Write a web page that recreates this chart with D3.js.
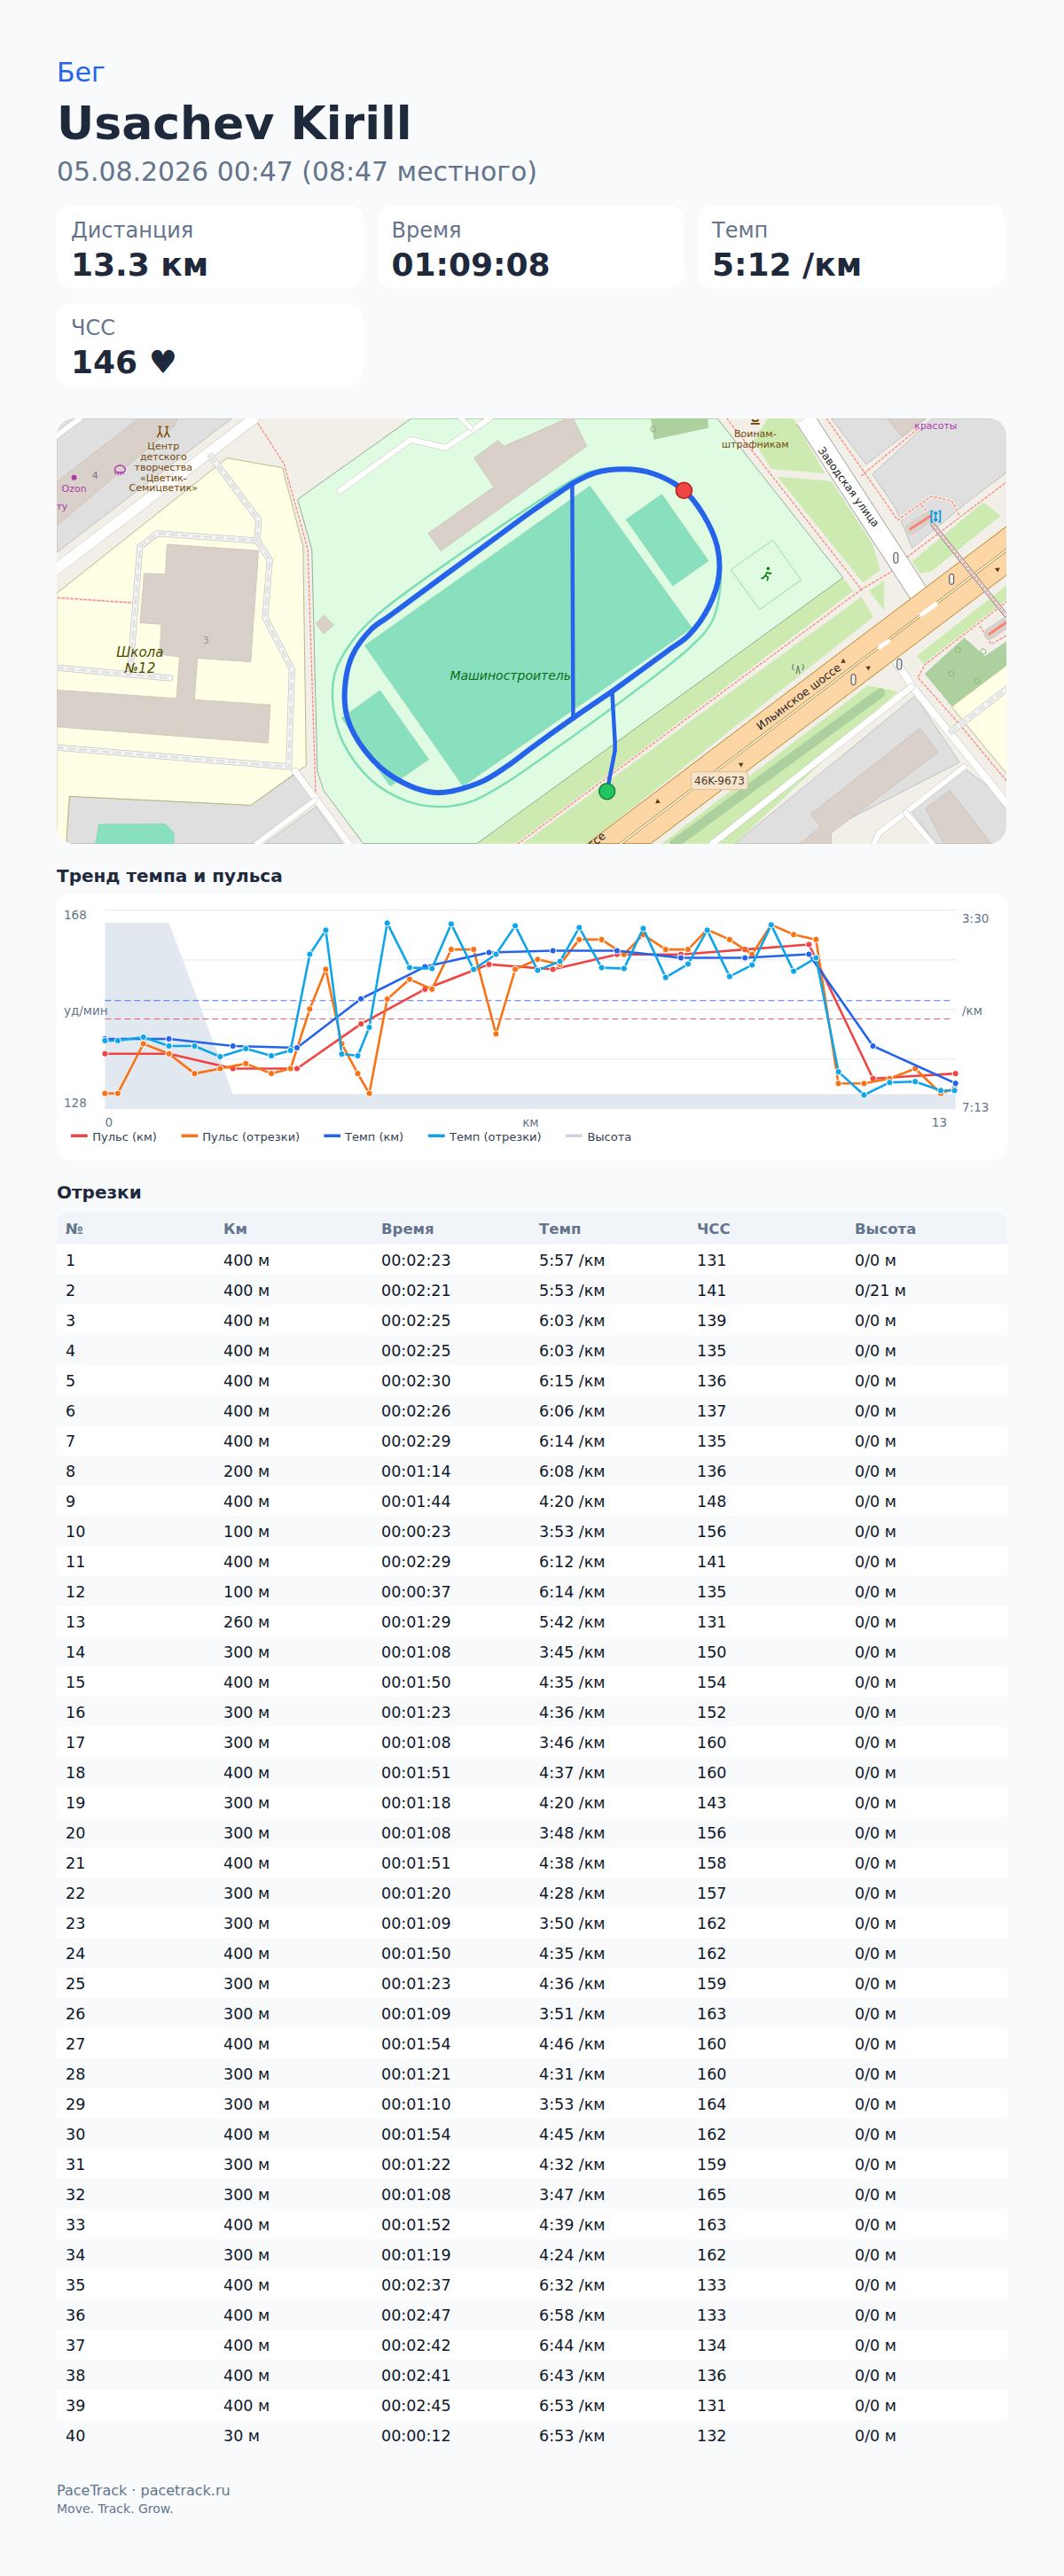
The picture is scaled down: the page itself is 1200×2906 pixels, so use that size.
<!DOCTYPE html>
<html>
<head>
<meta charset="utf-8">
<script src="https://cdn.jsdelivr.net/npm/d3@7/dist/d3.min.js"></script>
<style>
html, body { margin: 0; padding: 0; background: #f8fafc; }
svg { display: block; font-family: "DejaVu Sans", sans-serif; }
</style>
</head>
<body>
<div class="content"></div>
<script>
// header + stat cards
const activity = "Бег";
const athlete = "Usachev Kirill";
const dateLine = "05.08.2026 00:47 (08:47 местного)";
const statLabels = ["Дистанция", "Время", "Темп", "ЧСС"];
const statValues = ["13.3 км", "01:09:08", "5:12 /км", "146 ♥"];

// splits table
const tableHead = ["№", "Км", "Время", "Темп", "ЧСС", "Высота"];
const segDist = [400,400,400,400,400,400,400,200,400,100,400,100,260,300,400,300,300,400,300,300,400,300,300,400,300,300,400,300,300,400,300,300,400,300,400,400,400,400,400,30];
const segTime = ["00:02:23","00:02:21","00:02:25","00:02:25","00:02:30","00:02:26","00:02:29","00:01:14","00:01:44","00:00:23","00:02:29","00:00:37","00:01:29","00:01:08","00:01:50","00:01:23","00:01:08","00:01:51","00:01:18","00:01:08","00:01:51","00:01:20","00:01:09","00:01:50","00:01:23","00:01:09","00:01:54","00:01:21","00:01:10","00:01:54","00:01:22","00:01:08","00:01:52","00:01:19","00:02:37","00:02:47","00:02:42","00:02:41","00:02:45","00:00:12"];
const segPace = ["5:57","5:53","6:03","6:03","6:15","6:06","6:14","6:08","4:20","3:53","6:12","6:14","5:42","3:45","4:35","4:36","3:46","4:37","4:20","3:48","4:38","4:28","3:50","4:35","4:36","3:51","4:46","4:31","3:53","4:45","4:32","3:47","4:39","4:24","6:32","6:58","6:44","6:43","6:53","6:53"];
const segHr = [131,141,139,135,136,137,135,136,148,156,141,135,131,150,154,152,160,160,143,156,158,157,162,162,159,163,160,160,164,162,159,165,163,162,133,133,134,136,131,132];
const segElev = ["0/0","0/21","0/0","0/0","0/0","0/0","0/0","0/0","0/0","0/0","0/0","0/0","0/0","0/0","0/0","0/0","0/0","0/0","0/0","0/0","0/0","0/0","0/0","0/0","0/0","0/0","0/0","0/0","0/0","0/0","0/0","0/0","0/0","0/0","0/0","0/0","0/0","0/0","0/0","0/0"];

// chart series. segments sit at the middle of each split, km series at the km mark
const segKm = [0,0.2,0.6,1,1.4,1.8,2.2,2.6,2.9,3.2,3.45,3.7,3.95,4.13,4.41,4.76,5.11,5.41,5.76,6.11,6.41,6.76,7.11,7.41,7.76,8.11,8.41,8.76,9.11,9.41,9.76,10.11,10.41,10.76,11.11,11.46,11.86,12.26,12.66,13.06,13.275];
const kmMarks = [0,1,2,3,4,5,6,7,8,9,10,11,12,13.29];
const kmHr = [139,139,136,136,145,152,157,156,159,159,160,161,134,135];
const kmPace = ["5:55","5:55","6:03","6:05","5:10","4:34","4:18","4:16","4:16","4:24","4:24","4:20","6:03","6:45"];
const kmElev = [21,21,0,0,0,0,0,0,0,0,0,0,0,0];
const hrTicks = [128,138,148,158,168];
const avgHr = 146;
const avgPace = "5:12";
const legendNames = ["Пульс (км)", "Пульс (отрезки)", "Темп (км)", "Темп (отрезки)", "Высота"];
const legendColors = ["#ef4444", "#f97316", "#2563eb", "#0ea5e9", "#cbd5e1"];

// map features, west half read in crop units, east half shifted by one crop (E)
const E = pts => pts.map(p => [p[0] + 1568, p[1]]);
const mapGrey = [
  [[67,36],[620,36],[67,490]],
  [[107,1315],[680,1345],[820,1240],[875,1325],[690,1475],[97,1475]],
  [[885,1350],[725,1475],[970,1475]],
  E([[945,36],[1055,192],[1245,36]]),
  E([[1075,225],[1145,335],[1180,420],[1200,475],[1380,315],[1500,218],[1500,36],[1265,36]]),
  E([[1210,975],[1350,1200],[850,1475],[640,1475]]),
  E([[1365,1220],[1500,1330],[1500,1475],[1275,1475],[1195,1360]])
];
const mapBuildings = [
  [[67,250],[327,36],[447,36],[440,60],[67,400]],
  [[415,462],[705,483],[680,860],[512,848],[502,988],[742,1005],[735,1135],[67,1080],[67,955],[445,983],[455,843],[392,835],[397,733],[330,728],[343,560],[410,563]],
  [[912,702],[942,735],[910,765],[885,730]],
  [[1240,425],[1447,268],[1385,170],[1460,110],[1480,130],[1678,36],[1698,36],[1741,130],[1280,485]],
  E([[1120,36],[1170,100],[1245,36]]),
  E([[1225,1085],[1283,1165],[945,1440],[945,1475],[845,1475],[912,1418],[880,1375]]),
  E([[1320,1295],[1450,1475],[1300,1475],[1243,1355]])
];
const schoolYard = [[67,628],[605,170],[780,203],[845,470],[855,1210],[680,1345],[107,1315],[97,1475],[67,1475]];
const eastYard = E([[1325,1012],[1500,870],[1500,1240]]);
const parkArea = [[828,310],[1187,36],[2153,36],[2550,575],[1394,1475],[1035,1475],[910,1295],[890,1230],[873,480]];
const sportsBox = E([[760,448],[850,583],[718,683],[628,548]]);
const pitches = [
  [[1751,265],[2073,745],[1350,1280],[1040,805]],
  [[1088,957],[1242,1190],[1120,1280],[967,1050]],
  E([[410,293],[557,518],[445,603],[297,378]]),
  [[190,1475],[200,1410],[410,1408],[438,1440],[436,1475]]
];
const grassAreas = [
  E([[-174,1475],[982,575],[1015,620],[-44,1475]]),
  E([[1040,640],[1078,708],[175,1475],[-30,1475]]),
  E([[1065,620],[1112,585],[1112,688]]),
  E([[745,36],[825,36],[925,222],[755,207],[700,110]]),
  E([[775,233],[945,248],[1075,460],[1100,550],[1045,592]]),
  E([[1200,520],[1425,320],[1480,365],[1260,555],[1225,560]]),
  E([[1215,840],[1500,600],[1500,660],[1240,870]]),
  E([[1060,940],[1155,960],[640,1475],[410,1475]])
];
const treeAreas = [
  E([[375,36],[555,36],[557,68],[385,108]]),
  E([[1240,900],[1365,778],[1430,840],[1500,790],[1500,870],[1325,1010]])
];
const busStops = [E([[1195,410],[1260,365]]), E([[1445,765],[1500,725]])];
const treeBelt = E([[1100,965],[450,1475]]);
const highway = E([[1500,400],[175,1475],[375,1475],[1500,565]]);
const highwayMid = E([[1500,480],[280,1475]]);
const highwayGaps = [E([[1230,700],[1275,665]]), E([[1098,810],[1125,790]])];
const whiteRoads = [
  {pts: [[67,545],[690,36]], w: 12},
  {pts: [[67,95],[140,36]], w: 6},
  {pts: [[820,1230],[990,1475]], w: 7},
  {pts: [[880,1330],[700,1475]], w: 6},
  {pts: [[960,282],[1185,108],[1295,135],[1435,36]], w: 6},
  {pts: [[1345,36],[1375,70]], w: 5},
  {pts: E([[1150,860],[1205,950],[1500,1340]]), w: 8},
  {pts: E([[1198,945],[570,1475]]), w: 7},
  {pts: E([[1365,1215],[1180,1370],[1095,1440],[1080,1475]]), w: 6},
  {pts: E([[1180,1370],[1265,1475]]), w: 6}
];
const zavodskaya = E([[862,36],[1222,630]]);
const serviceRoads = [
  [[555,165],[705,380],[700,450],[740,515],[725,710],[810,885],[800,1215]],
  [[700,450],[385,425],[330,470],[300,880]],
  [[67,880],[425,915]],
  [[67,1150],[800,1215]],
  E([[1325,1095],[1500,950]])
];
const footways = [
  [[695,40],[785,190],[860,480],[885,1310]],
  [[70,643],[305,660]],
  E([[615,36],[1040,615],[1150,545]]),
  E([[1040,615],[-50,1480]]),
  E([[930,36],[1155,380],[1260,300],[1325,315],[1350,365]]),
  E([[1230,330],[1265,375]]),
  E([[1040,230],[1220,70]]),
  E([[1185,505],[1500,250]]),
  E([[1415,740],[1450,800],[1500,770]]),
  E([[1220,910],[1240,870],[1500,655]]),
  E([[1220,915],[1345,1065],[1500,1265]])
];
const footBridge = E([[1265,395],[1495,700]]);
const trafficLights = E([[1149,508],[1325,580],[1160,868],[1015,920]]);
const oneWay = E([[983,858],[1062,880],[1470,547],[660,1207],[397,1333]]);
const oneWayDir = [-125,55,55,55,-125];
const trees = E([[383,72],[1325,900],[1405,925],[1345,820],[1425,825]]);
const trackLine = [[1080,700],[1000,790],[945,900],[940,1010],[970,1130],[1060,1260],[1170,1330],[1265,1350],[1370,1335],[1470,1280],[1568,1210],[2068,810],[2138,720],[2163,600],[2158,500],[2118,380],[2028,260],[1938,215],[1848,205],[1758,215],[1688,250]];
const routeStart = [1805,1298];
const routeEnd = [2048,280];
const routeStem = [routeStart,[1830,1160],[1830,1130],[1821,960]];
const routeArc = [[1821,960],[2000,820],[2063,770],[2128,670],[2158,570],[2153,470],[2108,360],[2048,280],[1948,222],[1858,208],[1768,220],[1698,255]];
const routeCross = [[1695,255],[1698,1050]];
const routeLoop = [[1821,960],[1698,1050],[1568,1150],[1500,1205],[1400,1270],[1260,1302],[1130,1250],[1040,1160],[985,1050],[977,950],[1000,840],[1060,750],[1120,703],[1500,403],[1568,350],[1698,255]];
const mapLabels = [
  {t: "Центр", p: [404,128], c: "#734a08", s: 11},
  {t: "детского", p: [404,164], c: "#734a08", s: 11},
  {t: "творчества", p: [404,200], c: "#734a08", s: 11},
  {t: "«Цветик-", p: [404,236], c: "#734a08", s: 11},
  {t: "Семицветик»", p: [404,271], c: "#734a08", s: 11},
  {t: "4", p: [188,227], c: "#777", s: 11},
  {t: "Ozon", p: [122,274], c: "#ac39ac", s: 11},
  {t: "Berry", p: [60,332], c: "#ac39ac", s: 11},
  {t: "3", p: [538,787], c: "#999", s: 11},
  {t: "Школа", p: [330,828], c: "#4c4c00", s: 15, it: 1},
  {t: "№12", p: [330,882], c: "#4c4c00", s: 15, it: 1},
  {t: "Машиностроитель", p: [1500,905], c: "#0e6b17", s: 14, it: 1},
  {t: "Воинам-", p: [2273,86], c: "#734a08", s: 11},
  {t: "штрафникам", p: [2273,122], c: "#734a08", s: 11},
  {t: "красоты", p: [2843,60], c: "#ac39ac", s: 11},
  {t: "Заводская улица", p: [2568,268], c: "#222", s: 12, r: 54},
  {t: "Ильинское шоссе", p: [2410,978], c: "#222", s: 12.5, r: -37},
  {t: "шоссе", p: [1750,1480], c: "#222", s: 12.5, r: -37}
];
const shield = {t: "46K-9673", p: [2160,1262]};
// small point icons: place + shape in px around the place
const mapIcons = [
  {p: [404,82], c: "#734a08", w: 1.4, d: "M-6,-6h4M-4,-6v6l-3,6M-4,0l3,6M2,-6h4M4,-6v6l-3,6M4,0l3,6"},
  {p: [267,210], c: "#ac39ac", w: 1.5, d: "M-6,0a6,5 0 0 1 12,0a6,3 0 0 1 -12,0M-5,2v3M-2,3v3M1,3v3M4,2v3"},
  {p: [2273,45], c: "#734a08", w: 2, d: "M-5,3h10M-3,0h6M-3,-2v2M3,-2v2"},
  {p: [2308,565], c: "#0a7a0a", w: 1.6, d: "M2,-6a1,1 0 1 1 0.1,0M1,-3l-2,4l3,2l-1,4M-1,1l-3,3h-2M1,-3l3,2l2,-1"},
  {p: [2408,882], c: "#777", w: 1.2, d: "M-2,6l2,-9l2,9M-5,-5a6,6 0 0 0 0,7M5,-5a6,6 0 0 1 0,7"},
  {p: [2843,368], c: "#0a9ae0", w: 1.8, d: "M-3,-6h-2v12h2M3,-6h2v12h-2M0,-5v10M-2,-3l2,-2l2,2M-2,3l2,2l2,-2"}
];

// helpers
const parsePace = s => { const a = s.split(":"); return +a[0] * 60 + +a[1]; };
const withStart = a => [a[0]].concat(a);

const svg = d3.select(".content").append("svg")
  .attr("width", 1200).attr("height", 2906)
  .style("background", "#f8fafc");

function txt(g, t, x, y, size, color, weight) {
  return g.append("text").attr("x", x).attr("y", y)
    .attr("font-size", size).attr("fill", color)
    .attr("font-weight", weight || "normal").text(t);
}

// ---- header
txt(svg, activity, 64, 92, 30, "#2563eb");
txt(svg, athlete, 64, 157, 52, "#1e293b", "bold");
txt(svg, dateLine, 64, 204, 29.9, "#64748b");

const cardW = 346, cardH = 93, cardStep = 361.5;
statLabels.forEach((lab, i) => {
  const cx = 64 + (i % 3) * cardStep;
  const cy = 232 + Math.floor(i / 3) * 110;
  svg.append("rect").attr("x", cx).attr("y", cy).attr("width", cardW).attr("height", cardH)
    .attr("rx", 16).attr("fill", "#fff");
  txt(svg, lab, cx + 16, cy + 36, 24, "#64748b");
  txt(svg, statValues[i], cx + 16, cy + 79, 36, "#1e293b", "bold");
});

// ---- map
const mapX = d3.scaleLinear().domain([0, 3136]).range([40, 1160]);
const mapY = d3.scaleLinear().domain([0, 1530]).range([460, 970]);
const mapLine = d3.line().x(d => mapX(d[0])).y(d => mapY(d[1]));
const poly = pts => mapLine(pts) + "Z";

svg.append("clipPath").attr("id", "mapClip").append("rect")
  .attr("x", 64).attr("y", 472).attr("width", 1071).attr("height", 480).attr("rx", 20);
const map = svg.append("g").attr("clip-path", "url(#mapClip)");
map.append("rect").attr("x", 64).attr("y", 472).attr("width", 1071).attr("height", 480).attr("fill", "#f2efe9");

function fillAll(list, color, edge, ew) {
  map.append("g").selectAll("path").data(list).enter().append("path")
    .attr("d", poly).attr("fill", color)
    .attr("stroke", edge || "none").attr("stroke-width", ew || 0.8);
}
function strokeAll(list, color, w, dash, cap) {
  map.append("g").selectAll("path").data(list).enter().append("path")
    .attr("d", mapLine).attr("fill", "none").attr("stroke", color)
    .attr("stroke-width", w).attr("stroke-dasharray", dash || null)
    .attr("stroke-linecap", cap || "round").attr("stroke-linejoin", "round");
}

fillAll(mapGrey, "#dfdfdf", "#a8a8a8", 0.6);
fillAll(grassAreas, "#cdebb0");
strokeAll([treeBelt], "#add19e", 11);
fillAll([schoolYard, eastYard], "#ffffe5", "#a9a96c", 0.8);
fillAll([parkArea], "#dffce2", "#6f8f6f", 0.7);
fillAll(treeAreas, "#add19e");
fillAll([sportsBox], "#dffce2", "#88d098", 0.8);
fillAll(pitches, "#88e0be", "#7fd0b0", 0.6);
fillAll(mapBuildings, "#d9d0c9", "#bfb3a8", 0.5);

// track around the pitches
map.append("path")
  .attr("d", d3.line().x(d => mapX(d[0])).y(d => mapY(d[1])).curve(d3.curveCatmullRomClosed)(trackLine))
  .attr("fill", "none").attr("stroke", "#7fdcb8").attr("stroke-width", 2.5);

// footways, beige under red dots
strokeAll(footways, "#f2efe9", 3.5);
strokeAll(footways, "#fa8072", 1.2, "2.5 2.5");

// roads
whiteRoads.forEach(r => {
  strokeAll([r.pts], "#c9c5be", r.w + 1);
  strokeAll([r.pts], "#fff", r.w);
});
strokeAll(serviceRoads, "#c4c4c4", 7);
strokeAll(serviceRoads, "#f6f6f6", 5.5);
strokeAll(serviceRoads, "#e2e2e2", 3, "7 6");

// Zavodskaya street runs under the highway
strokeAll([zavodskaya], "#999", 23, null, "butt");
strokeAll([zavodskaya], "#fff", 21.5, null, "butt");

// Ilyinskoe highway
fillAll([highway], "#fcd6a4", "#b8862d", 1);
strokeAll([highwayMid], "#b8862d", 3);
strokeAll([highwayMid], "#fff", 1.5);
strokeAll(highwayGaps, "#fff", 5);

// bus stops and the foot bridge
strokeAll(busStops, "#d9d0c9", 13);
strokeAll(busStops, "#fa8072", 3, "2 2");
strokeAll([footBridge], "#8a8a8a", 5);
strokeAll([footBridge], "#fff", 3);
strokeAll([footBridge], "#fa8072", 1.2, "3 2");

// little map icons
map.append("g").selectAll("rect").data(trafficLights).enter().append("rect")
  .attr("x", d => mapX(d[0]) - 2.5).attr("y", d => mapY(d[1]) - 6)
  .attr("width", 5).attr("height", 12).attr("rx", 2.5)
  .attr("fill", "#eee").attr("stroke", "#444").attr("stroke-width", 1);
map.append("g").selectAll("path").data(oneWay).enter().append("path")
  .attr("d", d3.symbol().type(d3.symbolTriangle).size(14))
  .attr("transform", (d, i) => `translate(${mapX(d[0])},${mapY(d[1])}) rotate(${oneWayDir[i]})`)
  .attr("fill", "#5a3d12");
map.append("g").selectAll("circle").data(trees).enter().append("circle")
  .attr("cx", d => mapX(d[0])).attr("cy", d => mapY(d[1])).attr("r", 3)
  .attr("fill", "none").attr("stroke", "#8cb97a").attr("stroke-width", 1);
map.append("g").selectAll("path").data(mapIcons).enter().append("path")
  .attr("transform", d => `translate(${mapX(d.p[0])},${mapY(d.p[1])})`)
  .attr("d", d => d.d).attr("fill", "none").attr("stroke", d => d.c).attr("stroke-width", d => d.w);

const schoolDot = [122,236];
map.append("circle").attr("cx", mapX(schoolDot[0])).attr("cy", mapY(schoolDot[1])).attr("r", 3).attr("fill", "#ac39ac");

// map text
map.append("g").selectAll("text").data(mapLabels).enter().append("text")
  .attr("text-anchor", "middle").attr("dy", "0.35em")
  .attr("font-size", d => d.s).attr("fill", d => d.c)
  .attr("font-style", d => d.it ? "italic" : "normal")
  .attr("transform", d => `translate(${mapX(d.p[0])},${mapY(d.p[1])}) rotate(${d.r || 0})`)
  .text(d => d.t);

const sh = map.append("g").attr("transform", `translate(${mapX(shield.p[0])},${mapY(shield.p[1])})`);
sh.append("rect").attr("x", -32).attr("y", -10).attr("width", 64).attr("height", 20).attr("rx", 3)
  .attr("fill", "#f5e3cc").attr("stroke", "#dcbf9a");
sh.append("text").attr("text-anchor", "middle").attr("dy", "0.35em").attr("font-size", 12)
  .attr("fill", "#4a3a28").text(shield.t);

// route
const routeCurve = d3.line().x(d => mapX(d[0])).y(d => mapY(d[1])).curve(d3.curveCatmullRom.alpha(0.5));
function routePath(d, w) {
  map.append("path").attr("d", d).attr("fill", "none").attr("stroke", "#2563eb")
    .attr("stroke-width", w).attr("stroke-linecap", "round").attr("stroke-linejoin", "round");
}
routePath(routeCurve(routeArc), 6);
routePath(routeCurve(routeLoop), 6);
routePath(mapLine(routeStem), 4.5);
routePath(mapLine(routeCross), 4.5);
map.append("circle").attr("cx", mapX(routeStart[0])).attr("cy", mapY(routeStart[1])).attr("r", 9)
  .attr("fill", "#22c55e").attr("stroke", "#15803d").attr("stroke-width", 1.5);
map.append("circle").attr("cx", mapX(routeEnd[0])).attr("cy", mapY(routeEnd[1])).attr("r", 9)
  .attr("fill", "#ef4444").attr("stroke", "#b91c1c").attr("stroke-width", 1.5);

// ---- chart
txt(svg, "Тренд темпа и пульса", 64, 995, 20, "#1e293b", "bold");
svg.append("rect").attr("x", 64).attr("y", 1008).attr("width", 1072).attr("height", 301)
  .attr("rx", 16).attr("fill", "#fff");

const plot = {left: 118.4, right: 1078.4, top: 1026.3, bottom: 1250.3};
const x = d3.scaleLinear().domain([0, 13.3]).range([plot.left, plot.right]);
const yHr = d3.scaleLinear().domain([128, 168]).range([plot.bottom, plot.top]);
const yPace = d3.scaleLinear().domain(["7:13", "3:30"].map(parsePace)).range([plot.bottom, plot.top]);
const yElev = d3.scaleLinear().domain([-1.74, 22.6]).range([plot.bottom, plot.top]);

svg.append("path").datum(kmElev.map((e, i) => [kmMarks[i], e]))
  .attr("fill", "#e2e8f0")
  .attr("d", d3.area().x(d => x(d[0])).y0(plot.bottom).y1(d => yElev(d[1])));

const gridAxis = d3.axisLeft(yHr).tickValues(hrTicks).tickSize(-(plot.right - plot.left)).tickFormat("");
svg.append("g").attr("transform", `translate(${plot.left},0)`).call(gridAxis)
  .call(g => g.select(".domain").remove())
  .call(g => g.selectAll("line").attr("stroke", "#e2e8f0"));

const tickColor = "#64748b";
const axisSide = (g, labels) => g.selectAll("text").data(labels).enter().append("text")
  .attr("x", d => d.x).attr("y", d => d.y).attr("font-size", 13.5)
  .attr("fill", tickColor).attr("text-anchor", d => d.a || "start").text(d => d.t);
axisSide(svg.append("g"), [
  {t: hrTicks[4], x: 72, y: yHr(168) + 11},
  {t: "уд/мин", x: 72, y: 1145},
  {t: hrTicks[0], x: 72, y: yHr(128) - 1},
  {t: "3:30", x: 1085, y: yPace(210) + 15},
  {t: "/км", x: 1085, y: 1145},
  {t: "7:13", x: 1085, y: yPace(433) + 4},
  {t: "0", x: plot.left, y: 1271},
  {t: "км", x: (plot.left + plot.right) / 2, y: 1271, a: "middle"},
  {t: "13", x: 1068, y: 1271, a: "end"}
]);

// averages
const avgLines = [
  {y: yHr(avgHr), c: "#ef4444"},
  {y: yPace(parsePace(avgPace)), c: "#2563eb"}
];
svg.append("g").selectAll("line").data(avgLines).enter().append("line")
  .attr("x1", plot.left).attr("x2", plot.right - 4).attr("y1", d => d.y).attr("y2", d => d.y)
  .attr("stroke", d => d.c).attr("stroke-width", 1).attr("stroke-dasharray", "7 4").attr("opacity", 0.85);

const seriesList = [
  {xs: kmMarks, ys: kmHr.map(yHr), c: legendColors[0]},
  {xs: segKm, ys: withStart(segHr).map(yHr), c: legendColors[1]},
  {xs: kmMarks, ys: kmPace.map(p => yPace(parsePace(p))), c: legendColors[2]},
  {xs: segKm, ys: withStart(segPace).map(p => yPace(parsePace(p))), c: legendColors[3]}
];
seriesList.forEach(s => {
  const pts = s.xs.map((k, i) => [x(k), s.ys[i]]);
  const g = svg.append("g");
  g.append("path").attr("d", d3.line()(pts)).attr("fill", "none")
    .attr("stroke", s.c).attr("stroke-width", 2.6).attr("stroke-linejoin", "round");
  g.selectAll("circle").data(pts).enter().append("circle")
    .attr("cx", d => d[0]).attr("cy", d => d[1]).attr("r", 3.6)
    .attr("fill", s.c).attr("stroke", "#fff").attr("stroke-width", 1);
});

// legend
const legendLeft = [80, 204.6, 365.3, 483, 638];
const legendText = [104.3, 228.3, 389, 507, 662.4];
legendNames.forEach((n, i) => {
  svg.append("rect").attr("x", legendLeft[i]).attr("y", 1279.5).attr("width", 18.7).attr("height", 3.5)
    .attr("fill", legendColors[i]);
  txt(svg, n, legendText[i], 1286.5, 13, "#334155");
});

// ---- table
txt(svg, "Отрезки", 64, 1352, 20, "#1e293b", "bold");
const colX = d3.scaleLinear().domain([0, 5]).range([74, 964]);
const rowH = 34, headTop = 1368, headH = 36, rowTop = headTop + headH;

svg.append("path").attr("fill", "#f1f5f9")
  .attr("d", `M64,${rowTop}V${headTop + 12}a12,12 0 0 1 12,-12H1124a12,12 0 0 1 12,12V${rowTop}Z`);
tableHead.forEach((h, i) => txt(svg, h, colX(i), headTop + 24, 16.5, "#64748b", "bold"));

const rows = svg.append("g").selectAll("g").data(segDist).enter().append("g")
  .attr("transform", (d, i) => `translate(0,${rowTop + i * rowH})`);
rows.append("rect").attr("x", 64).attr("width", 1072).attr("height", rowH)
  .attr("fill", (d, i) => i % 2 ? "#f8fafc" : "#fff");
rows.each(function (d, i) {
  const r = d3.select(this);
  const cells = [i + 1, d + " м", segTime[i], segPace[i] + " /км", segHr[i], segElev[i] + " м"];
  cells.forEach((c, j) => txt(r, c, colX(j), 24, 17.5, "#0f172a"));
});

// ---- footer
txt(svg, "PaceTrack · pacetrack.ru", 64, 2815, 16, "#64748b");
txt(svg, "Move. Track. Grow.", 64, 2835, 14, "#64748b");
</script>
</body>
</html>
